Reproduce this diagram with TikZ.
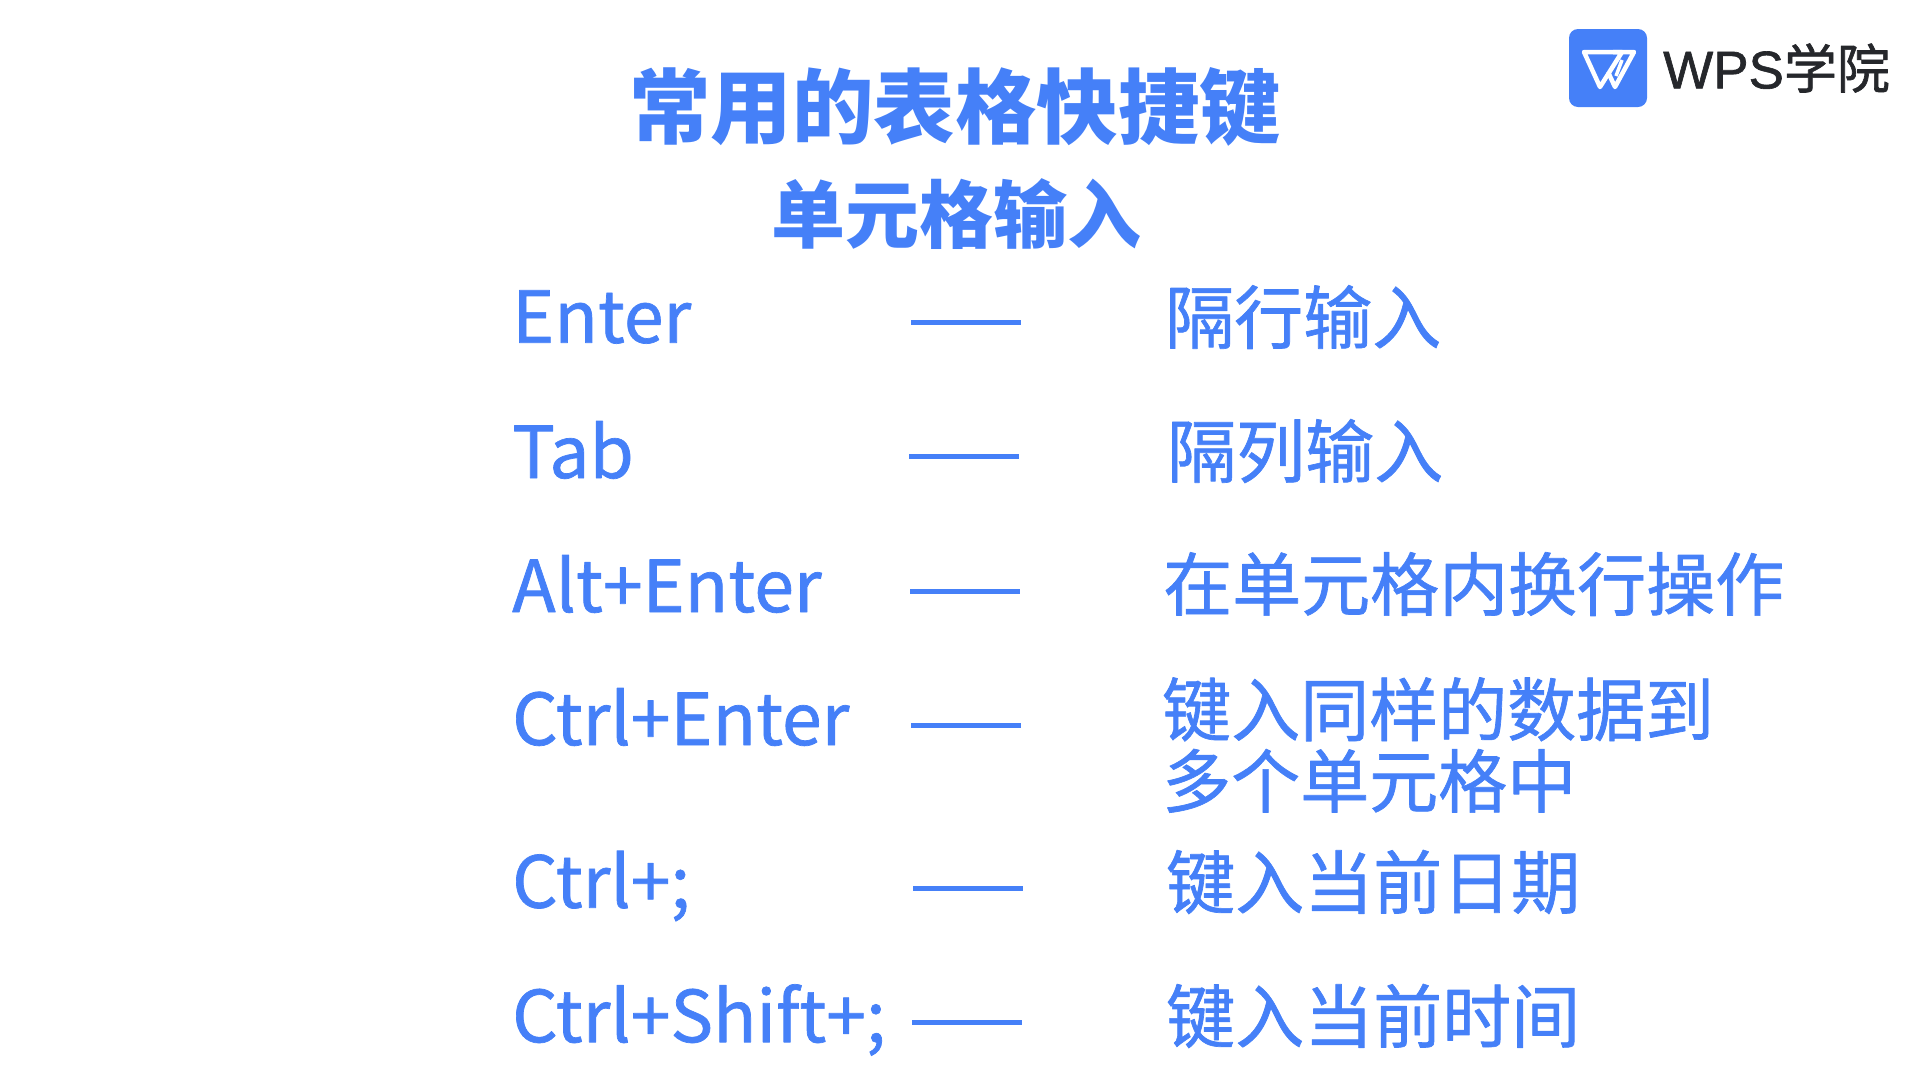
\documentclass[tikz,border=0pt]{standalone}
\usepackage{fontspec}
\setmainfont{Noto Sans CJK SC}
\newfontfamily\logofont{Liberation Sans}
\newfontfamily\logocjk{Noto Sans CJK SC}
\definecolor{wpsblue}{HTML}{4580F8}
\definecolor{logodark}{HTML}{25272B}
\tikzset{
	keytext/.style={anchor=west,inner sep=0pt,text=wpsblue,font=\fontsize{71.5}{72}\selectfont\addfontfeature{FakeBold=1}},
	desctext/.style={anchor=west,inner sep=0pt,text=wpsblue,align=left,font=\fontsize{69}{69.5}\selectfont\addfontfeature{FakeBold=1}},
	bartext/.style={line width=5pt,color=wpsblue},
}
\begin{document}
\begin{tikzpicture}[x=1pt,y=-1pt,line join=round]
		\useasboundingbox (0,0) rectangle (1920,1080);
		\node (title) at (955,107)[inner sep=0pt,text=wpsblue,font=\fontsize{81.5}{82}\selectfont\bfseries]{常用的表格快捷键};
		\node (subtitle) at (956,214)[inner sep=0pt,text=wpsblue,font=\fontsize{74}{74}\selectfont\bfseries]{单元格输入};
		% keys
		\node (enter) at (512,317)[keytext]{Enter};
		\node (tab) at (512,450)[keytext]{Tab};
		\node (altenter) at (512,584)[keytext]{Alt+Enter};
		\node (ctrlenter) at (512,717)[keytext]{Ctrl+Enter};
		\node (ctrlsemi) at (512,886)[keytext]{Ctrl+;};
		\node (ctrlshift) at (512,1020)[keytext]{Ctrl+Shift+;};
		% meanings
		\node (rowinput) at (1165,317)[desctext]{隔行输入};
		\node (colinput) at (1167,451)[desctext]{隔列输入};
		\node (wrapcell) at (1163,584)[desctext]{在单元格内换行操作};
		\node (fillcells) at (1162,745)[desctext]{键入同样的数据到\\[2pt]多个单元格中};
		\node (curdate) at (1166,882)[desctext]{键入当前日期};
		\node (curtime) at (1166,1016)[desctext]{键入当前时间};
		% dashes
		\draw[bartext] (911,322)--(1021,322);
		\draw[bartext] (909,456)--(1019,456);
		\draw[bartext] (910,591)--(1020,591);
		\draw[bartext] (911,725)--(1021,725);
		\draw[bartext] (913,888)--(1023,888);
		\draw[bartext] (912,1022)--(1022,1022);
		% logo
		\fill[wpsblue,rounded corners=9pt] (1569,29) rectangle (1647,107);
		\draw[white,line width=4.5pt] (1584,52)--(1622,52)--(1600,87)--cycle;
		\draw[white,line width=4.5pt] (1613,52)--(1634,52)--(1615,87)--(1608,72);
		\draw[white,line width=3.5pt] (1622,60)--(1616,76);
		\node (logotext) at (1663,68)[anchor=west,inner sep=0pt,text=logodark,font=\fontsize{53}{53}\logofont\addfontfeature{FakeBold=1.2}]{WPS{\logocjk\addfontfeature{FakeBold=1.2} 学院}};
		\end{tikzpicture}
\end{document}
